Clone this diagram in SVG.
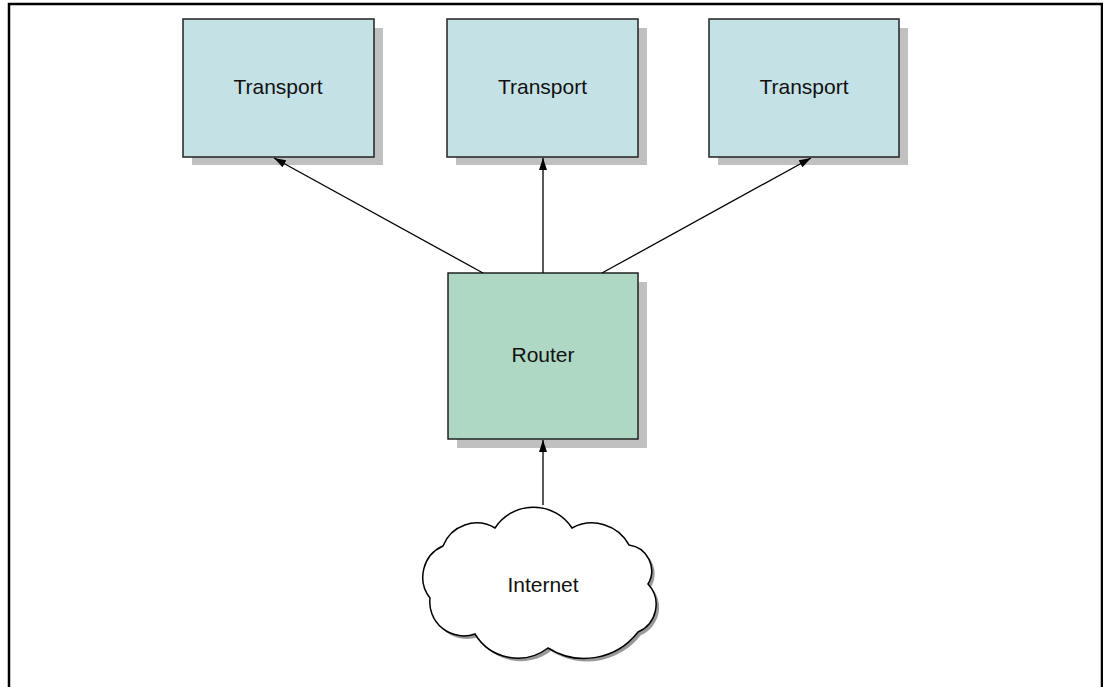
<svg xmlns="http://www.w3.org/2000/svg" width="1103" height="687" viewBox="0 0 1103 687">
<defs>
<style>
.box{stroke:#222;stroke-width:1.5}
.tr{fill:#c4e1e6}
.rt{fill:#aed8c4}
.sh{fill:#c0c0c0}
.lbl{font-family:"Liberation Sans",Arial,sans-serif;font-size:21px;fill:#111;text-anchor:middle}
.con{stroke:#000;stroke-width:1.3;fill:none;marker-end:url(#ah)}
</style>
<marker id="ah" viewBox="0 0 12 8" refX="12" refY="4" markerWidth="12" markerHeight="8" markerUnits="userSpaceOnUse" orient="auto">
<path d="M0,0 L12,4 L0,8 Z" fill="#000"/>
</marker>
</defs>
<rect width="1103" height="687" fill="#fff"/>
<path d="M9,687 V4 H1102 V687" fill="none" stroke="#000" stroke-width="2.5"/>
<g id="transport1">
<rect class="sh" x="192" y="28" width="191" height="137"/>
<rect class="box tr" x="183" y="19" width="191" height="138"/>
<text class="lbl" x="278" y="94">Transport</text>
</g>
<g id="transport2">
<rect class="sh" x="456" y="28" width="191" height="137"/>
<rect class="box tr" x="447" y="19" width="191" height="138"/>
<text class="lbl" x="542.5" y="94">Transport</text>
</g>
<g id="transport3">
<rect class="sh" x="718" y="28" width="190" height="137"/>
<rect class="box tr" x="709" y="19" width="190" height="138"/>
<text class="lbl" x="804" y="94">Transport</text>
</g>
<g id="router">
<rect class="sh" x="457" y="282" width="190" height="166"/>
<rect class="box rt" x="448" y="273" width="190" height="166"/>
<text class="lbl" x="543" y="362">Router</text>
</g>
<g id="internet">
<path transform="translate(3,3)" fill="#999" d="M495,528 A46,46 0 0 1 572,528 A42,42 0 0 1 629,545 A26,26 0 0 1 648,584 A30,30 0 0 1 638,632 A68,68 0 0 1 548,648 A50,50 0 0 1 475,634 A34,34 0 0 1 430,598 A34,34 0 0 1 443,546 A36,36 0 0 1 495,528 Z"/>
<path fill="#fff" stroke="#000" stroke-width="1.5" d="M495,528 A46,46 0 0 1 572,528 A42,42 0 0 1 629,545 A26,26 0 0 1 648,584 A30,30 0 0 1 638,632 A68,68 0 0 1 548,648 A50,50 0 0 1 475,634 A34,34 0 0 1 430,598 A34,34 0 0 1 443,546 A36,36 0 0 1 495,528 Z"/>
<text class="lbl" x="543" y="592">Internet</text>
</g>
<g id="connectors">
<line class="con" x1="483" y1="273" x2="274" y2="158"/>
<line class="con" x1="543" y1="273" x2="543" y2="158"/>
<line class="con" x1="602" y1="273" x2="811" y2="158"/>
<line class="con" x1="543" y1="505" x2="543" y2="440"/>
</g>
</svg>
